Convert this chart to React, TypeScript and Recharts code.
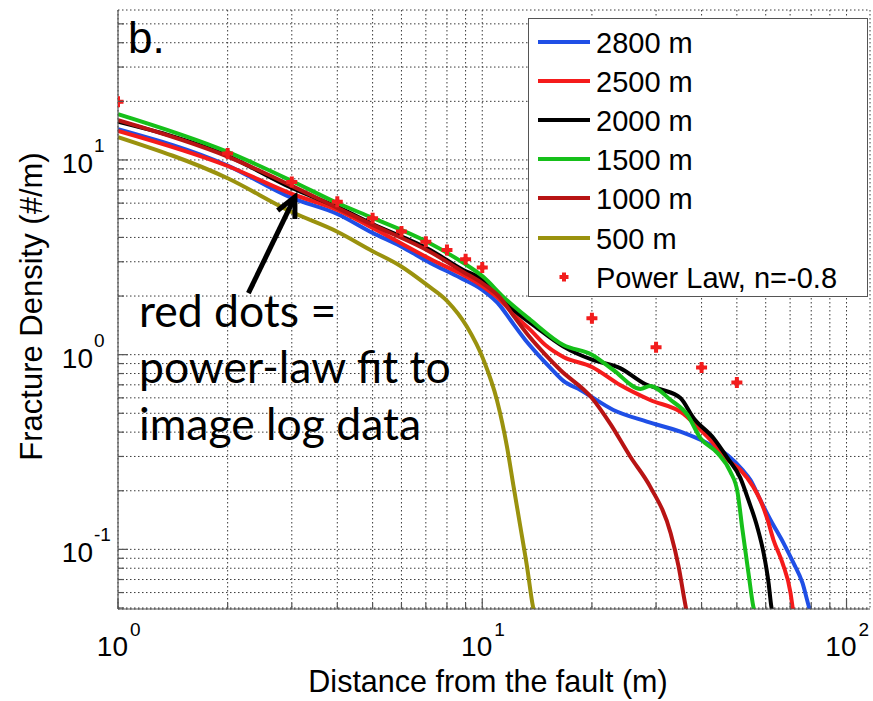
import React from 'react';
import { LineChart, Line, XAxis, YAxis, CartesianGrid, Legend, ReferenceLine } from 'recharts';

// ---- axes ----
const xTicks = [1, 2, 3, 4, 5, 6, 7, 8, 9, 10, 20, 30, 40, 50, 60, 70, 80, 90, 100];
const yTicks = [0.05, 0.06, 0.07, 0.08, 0.09, 0.1, 0.2, 0.3, 0.4, 0.5, 0.6, 0.7, 0.8, 0.9, 1, 2, 3, 4, 5, 6, 7, 8, 9, 10, 20, 30, 40, 50];
const xMajor = [1, 10, 100];
const xMajorExp = ['0', '1', '2'];
const yMajor = [0.1, 1, 10];
const yMajorExp = ['-1', '0', '1'];
const xDomain = [1, 116];
const yDomain = [0.0494, 58.9];

// ---- series ----
const seriesNames = ['2800 m', '2500 m', '2000 m', '1500 m', '1000 m', '500 m'];
const seriesColors = ['#1f4fe6', '#f51b1b', '#000000', '#16c01a', '#b81414', '#9a920e'];
const powerLawName = 'Power Law, n=-0.8';
const powerLawColor = '#f21d1d';

const s2800X = [1, 2, 3, 4, 5, 5.95, 7.2, 8.7, 10, 11.2, 11.94, 13.13, 14.16, 15.38, 16.7, 18.59, 22.9, 28.3, 35.0, 41.5, 47.1, 51.8, 54.5, 58.0, 61.8, 67.1, 71.5, 75.7, 78.6, 79.6];
const s2800Y = [14.4, 9.35, 6.38, 5.28, 4.22, 3.62, 2.96, 2.48, 2.15, 1.78, 1.51, 1.19, 1.01, 0.855, 0.733, 0.659, 0.52, 0.453, 0.402, 0.351, 0.305, 0.256, 0.227, 0.179, 0.142, 0.108, 0.0852, 0.0672, 0.0518, 0.0477];

const s2500X = [1, 2, 3, 4, 5, 7.2, 10, 11.2, 12.32, 13.55, 14.9, 16.7, 20, 23.9, 28.9, 35.7, 38.0, 42.3, 47.1, 51.1, 55.5, 58.0, 60.7, 63.0, 66.7, 70.2, 71.1, 71.5];
const s2500Y = [14.1, 9.31, 6.69, 5.54, 4.47, 3.10, 2.25, 1.91, 1.58, 1.34, 1.12, 0.973, 0.865, 0.699, 0.585, 0.496, 0.446, 0.365, 0.288, 0.256, 0.209, 0.179, 0.142, 0.112, 0.0852, 0.0597, 0.0506, 0.0477];

const s2000X = [1, 2, 3, 4, 5, 7.2, 8.87, 10.06, 11.0, 11.94, 14.16, 16.7, 20.1, 23.9, 28.0, 30.8, 35.0, 38.0, 43.1, 47.1, 51.1, 53.8, 56.9, 59.2, 61.1, 62.2, 62.6];
const s2000Y = [15.7, 10.5, 7.18, 5.74, 4.69, 3.45, 2.72, 2.42, 2.07, 1.76, 1.37, 1.10, 0.939, 0.853, 0.707, 0.665, 0.599, 0.473, 0.373, 0.295, 0.233, 0.179, 0.130, 0.0958, 0.0672, 0.0506, 0.0477];

const s1500X = [1, 2, 3, 4, 5, 7.05, 8.87, 10.06, 11.42, 13.55, 16.7, 20, 22.9, 27.2, 28.9, 32.9, 36.6, 39.7, 44.2, 48.0, 50.2, 51.8, 53.8, 55.5, 55.9];
const s1500Y = [17.2, 11.0, 7.8, 6.01, 5.04, 3.80, 2.96, 2.51, 1.98, 1.51, 1.12, 1.0, 0.834, 0.667, 0.691, 0.585, 0.49, 0.373, 0.313, 0.25, 0.197, 0.126, 0.0756, 0.0506, 0.0477];

const s1000X = [1, 2, 3, 4, 5, 7.2, 8.87, 10.06, 11.2, 12.32, 13.55, 14.9, 16.38, 20, 22.47, 25.5, 28.9, 32.9, 34.6, 35.9, 36.4];
const s1000Y = [16.0, 10.4, 7.36, 5.67, 4.64, 3.37, 2.66, 2.31, 1.96, 1.54, 1.22, 1.0, 0.834, 0.599, 0.441, 0.299, 0.21, 0.121, 0.0815, 0.055, 0.0477];

const s500X = [1, 2, 3, 4, 5, 5.95, 7.05, 8.0, 9.08, 10.08, 10.97, 11.69, 12.19, 12.72, 13.27, 13.78, 13.95];
const s500Y = [13.1, 8.05, 5.4, 4.28, 3.4, 2.86, 2.28, 1.89, 1.39, 0.94, 0.585, 0.337, 0.21, 0.131, 0.0815, 0.0508, 0.046];

const powerLawX = [1, 2, 3, 4, 5, 6, 7, 8, 9, 10, 20, 30, 40, 50];
const powerLawY = [19.9, 10.8, 7.7, 6.1, 5.02, 4.29, 3.80, 3.45, 3.09, 2.80, 1.54, 1.09, 0.86, 0.72];

// annotation arrow (data coordinates: tail -> tip)
const arrowFrom = { x: 2.28, y: 2.07 };
const arrowTo = { x: 3.06, y: 6.46 };
const annotationLines = ['red dots =', 'power-law fit to', 'image log data'];
const panelLabel = 'b.';

const zip = (xs: number[], ys: number[]) => xs.map((x, i) => ({ x, y: ys[i] }));
const seriesData = [
  zip(s2800X, s2800Y),
  zip(s2500X, s2500Y),
  zip(s2000X, s2000Y),
  zip(s1500X, s1500Y),
  zip(s1000X, s1000Y),
  zip(s500X, s500Y),
];
const powerLawData = zip(powerLawX, powerLawY);

const FONT = '"Liberation Sans", Arial, Helvetica, sans-serif';
const AXIS = '#555';

const XTickBottom = (props: any) => {
  const { x, y, payload } = props;
  const k = xMajor.indexOf(payload.value);
  return (
    <g>
      <line x1={x} x2={x} y1={y} y2={y - (k >= 0 ? 10 : 6)} stroke={AXIS} strokeWidth={1.2} />
      {k >= 0 && (
        <g>
          <text x={x + 10} y={y + 47} textAnchor="end" fontSize={28} fontFamily={FONT} fill="#000">10</text>
          <text x={x + 12} y={y + 27} fontSize={19} fontFamily={FONT} fill="#000">{xMajorExp[k]}</text>
        </g>
      )}
    </g>
  );
};

const XTickTop = (props: any) => {
  const { x, y, payload } = props;
  const k = xMajor.indexOf(payload.value);
  return <line x1={x} x2={x} y1={y} y2={y + (k >= 0 ? 10 : 6)} stroke={AXIS} strokeWidth={1.2} />;
};

const YTickLeft = (props: any) => {
  const { x, y, payload } = props;
  const k = yMajor.indexOf(payload.value);
  return (
    <g>
      <line x1={x} x2={x + (k >= 0 ? 10 : 6)} y1={y} y2={y} stroke={AXIS} strokeWidth={1.2} />
      {k >= 0 && (
        <g>
          <text x={x - 25} y={y + 13} textAnchor="end" fontSize={28} fontFamily={FONT} fill="#000">10</text>
          <text x={x - 24} y={y - 8} fontSize={19} fontFamily={FONT} fill="#000">{yMajorExp[k]}</text>
        </g>
      )}
    </g>
  );
};

const YTickRight = (props: any) => {
  const { x, y, payload } = props;
  const k = yMajor.indexOf(payload.value);
  return <line x1={x} x2={x - (k >= 0 ? 10 : 6)} y1={y} y2={y} stroke={AXIS} strokeWidth={1.2} />;
};

const PlusMarker = (props: any) => {
  const { cx, cy, r = 5.5 } = props;
  if (cx == null || cy == null) return null;
  const d = r - 1.5;
  return (
    <g key={`pl-${cx}-${cy}`}>
      <path d={`M${cx - r} ${cy} L${cx + r} ${cy} M${cx} ${cy - r} L${cx} ${cy + r}`} stroke={powerLawColor} strokeWidth={4} />
      <path d={`M${cx - d} ${cy} L${cx} ${cy - d} L${cx + d} ${cy} L${cx} ${cy + d} Z`} fill={powerLawColor} />
    </g>
  );
};

const ArrowShape = (p: any) => {
  const { x1, y1, x2, y2 } = p;
  const a = Math.atan2(y2 - y1, x2 - x1);
  const L = 22;
  const w = 0.45;
  const ax = x2 - L * Math.cos(a - w);
  const ay = y2 - L * Math.sin(a - w);
  const bx = x2 - L * Math.cos(a + w);
  const by = y2 - L * Math.sin(a + w);
  return (
    <g>
      <line x1={x1} y1={y1} x2={x2} y2={y2} stroke="#000" strokeWidth={5} />
      <polyline points={`${ax},${ay} ${x2},${y2} ${bx},${by}`} fill="none" stroke="#000" strokeWidth={5} strokeLinejoin="miter" />
    </g>
  );
};

const LegendBox = () => (
  <div
    style={{
      width: 340,
      height: 279,
      boxSizing: 'border-box',
      border: `1.5px solid ${AXIS}`,
      background: '#fff',
      position: 'relative',
      fontFamily: FONT,
      fontSize: 29,
      color: '#000',
    }}
  >
    {seriesNames.map((n, i) => (
      <div key={n} style={{ position: 'absolute', left: 0, top: 22.5 + i * 39.2 - 20, height: 40, width: 336 }}>
        <svg width={64} height={40} style={{ position: 'absolute', left: 0, top: 0 }}>
          <line x1={9} x2={61} y1={20} y2={20} stroke={seriesColors[i]} strokeWidth={4} />
        </svg>
        <span style={{ position: 'absolute', left: 67, top: 0, lineHeight: '42px', whiteSpace: 'nowrap' }}>{n}</span>
      </div>
    ))}
    <div style={{ position: 'absolute', left: 0, top: 22.5 + 6 * 39.2 - 20, height: 40, width: 336 }}>
      <svg width={64} height={40} style={{ position: 'absolute', left: 0, top: 0 }}>
        <PlusMarker cx={35} cy={20} r={4.5} />
      </svg>
      <span style={{ position: 'absolute', left: 67, top: 0, lineHeight: '42px', whiteSpace: 'nowrap' }}>{powerLawName}</span>
    </div>
  </div>
);

export default function App() {
  return (
    <div style={{ position: 'absolute', left: 0, top: 0, width: 873, height: 701, background: '#fff' }}>
      <LineChart width={873} height={701} margin={{ top: 10, right: 3, bottom: 0, left: 0 }}>
        <CartesianGrid stroke="#3a3a3a" strokeDasharray="1.5 2.5" strokeWidth={1} />
        <XAxis
          dataKey="x"
          type="number"
          scale="log"
          domain={xDomain}
          allowDataOverflow
          ticks={xTicks}
          interval={0}
          height={92}
          tickSize={0}
          tickMargin={0}
          tickLine={false}
          axisLine={{ stroke: AXIS, strokeWidth: 1.2 }}
          tick={<XTickBottom />}
          label={{
            content: (props: any) => {
              const vb = props.viewBox || { x: 118, y: 609, width: 752, height: 92 };
              return (
                <text x={vb.x + vb.width / 2 - 6} y={vb.y + 83} textAnchor="middle" fontSize={30.5} fontFamily={FONT} fill="#000">
                  Distance from the fault (m)
                </text>
              );
            },
          }}
        />
        <XAxis
          xAxisId="top"
          orientation="top"
          dataKey="x"
          type="number"
          scale="log"
          domain={xDomain}
          allowDataOverflow
          ticks={xTicks}
          interval={0}
          height={0}
          tickSize={0}
          tickMargin={0}
          tickLine={false}
          axisLine={{ stroke: AXIS, strokeWidth: 1.2 }}
          tick={<XTickTop />}
        />
        <YAxis
          dataKey="y"
          type="number"
          scale="log"
          domain={yDomain}
          allowDataOverflow
          ticks={yTicks}
          interval={0}
          width={118}
          tickSize={0}
          tickMargin={0}
          tickLine={false}
          axisLine={{ stroke: AXIS, strokeWidth: 1.2 }}
          tick={<YTickLeft />}
          label={{
            content: (props: any) => {
              const vb = props.viewBox || { x: 0, y: 10, width: 118, height: 599 };
              const cy = vb.y + vb.height / 2 - 3;
              return (
                <text x={42} y={cy} transform={`rotate(-90, 42, ${cy})`} textAnchor="middle" fontSize={31} fontFamily={FONT} fill="#000">
                  Fracture Density (#/m)
                </text>
              );
            },
          }}
        />
        <YAxis
          yAxisId="right"
          orientation="right"
          dataKey="y"
          type="number"
          scale="log"
          domain={yDomain}
          allowDataOverflow
          ticks={yTicks}
          interval={0}
          width={0}
          tickSize={0}
          tickMargin={0}
          tickLine={false}
          axisLine={{ stroke: AXIS, strokeWidth: 1.2 }}
          tick={<YTickRight />}
        />
        {seriesData.map((d, i) => (
          <Line
            key={seriesNames[i]}
            name={seriesNames[i]}
            data={d}
            dataKey="y"
            type="monotone"
            stroke={seriesColors[i]}
            strokeWidth={4}
            dot={false}
            activeDot={false}
            isAnimationActive={false}
          />
        ))}
        <Line
          name={powerLawName}
          data={powerLawData}
          dataKey="y"
          stroke="none"
          dot={(p: any) => <PlusMarker key={`d-${p.index}`} cx={p.cx} cy={p.cy} />}
          activeDot={false}
          isAnimationActive={false}
        />
        <ReferenceLine segment={[arrowFrom, arrowTo]} shape={(p: any) => <ArrowShape {...p} />} ifOverflow="visible" />
        <Legend
          layout="vertical"
          align="center"
          verticalAlign="middle"
          wrapperStyle={{ left: 528, top: 18, width: 340, height: 279 }}
          content={() => <LegendBox />}
        />
      </LineChart>
      <svg width={873} height={701} style={{ position: 'absolute', left: 0, top: 0, pointerEvents: 'none' }}>
        <text x={128} y={53} fontSize={44} fontFamily={FONT} fill="#000">{panelLabel}</text>
        {annotationLines.map((t, i) => (
          <text key={t} x={139} y={[327, 383, 440][i]} fontSize={44.5} fontFamily="Lato, 'Open Sans', sans-serif" fill="#000">
            {t}
          </text>
        ))}
      </svg>
    </div>
  );
}
